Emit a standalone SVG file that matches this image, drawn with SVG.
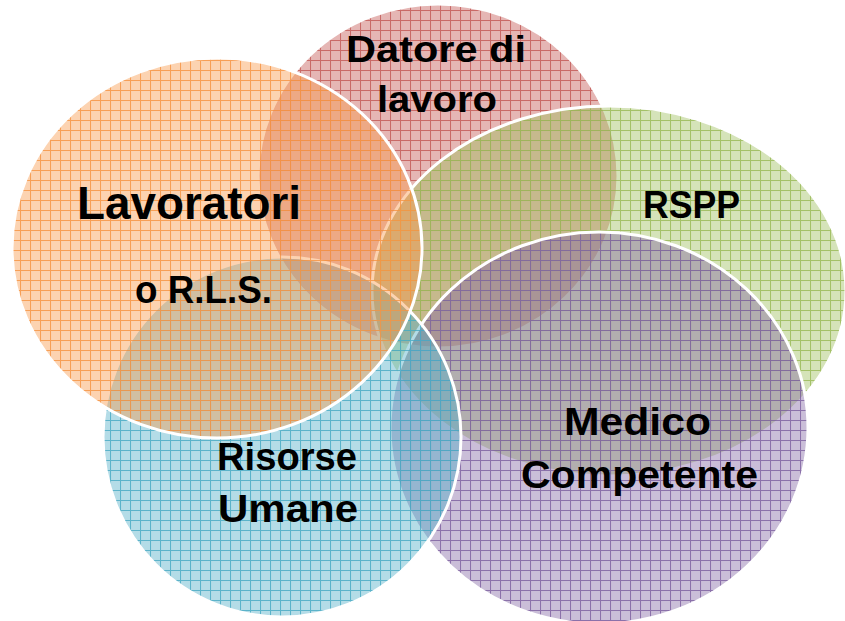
<svg xmlns="http://www.w3.org/2000/svg" width="845" height="621" viewBox="0 0 845 621">
  <defs>
    <pattern id="pRed" patternUnits="userSpaceOnUse" width="10" height="10">
      <rect width="10" height="10" fill="#C0504D" fill-opacity="0.42"/>
      <path d="M0 0.5H10M0.5 0V10" stroke="#C0504D" stroke-opacity="0.75" stroke-width="1.1" fill="none"/>
    </pattern>
    <pattern id="pOrange" patternUnits="userSpaceOnUse" width="10" height="10">
      <rect width="10" height="10" fill="#F79646" fill-opacity="0.42"/>
      <path d="M0 0.5H10M0.5 0V10" stroke="#F79646" stroke-opacity="0.85" stroke-width="1.1" fill="none"/>
    </pattern>
    <pattern id="pGreen" patternUnits="userSpaceOnUse" width="10" height="10">
      <rect width="10" height="10" fill="#9BBB59" fill-opacity="0.42"/>
      <path d="M0 0.5H10M0.5 0V10" stroke="#9BBB59" stroke-opacity="0.85" stroke-width="1.1" fill="none"/>
    </pattern>
    <pattern id="pBlue" patternUnits="userSpaceOnUse" width="10" height="10">
      <rect width="10" height="10" fill="#4BACC6" fill-opacity="0.42"/>
      <path d="M0 0.5H10M0.5 0V10" stroke="#4BACC6" stroke-opacity="0.85" stroke-width="1.1" fill="none"/>
    </pattern>
    <pattern id="pPurple" patternUnits="userSpaceOnUse" width="10" height="10">
      <rect width="10" height="10" fill="#8064A2" fill-opacity="0.42"/>
      <path d="M0 0.5H10M0.5 0V10" stroke="#8064A2" stroke-opacity="0.85" stroke-width="1.1" fill="none"/>
    </pattern>
  </defs>
  <style>
    .shape { stroke: #FFFFFF; stroke-width: 3; }
    .lbl { font-family: "Liberation Sans", Arial, sans-serif; font-weight: bold; fill: #000000; }
  </style>
  <rect width="845" height="621" fill="#FFFFFF"/>
  <g id="connectors"/>
  <g id="datore">
    <ellipse class="shape" cx="438" cy="176" rx="180" ry="172" fill="url(#pRed)"/>
    <text class="lbl" x="346" y="62" font-size="37" textLength="180" lengthAdjust="spacingAndGlyphs">Datore di</text>
    <text class="lbl" x="377" y="112" font-size="37" textLength="120" lengthAdjust="spacingAndGlyphs">lavoro</text>
  </g>
  <g id="rspp">
    <ellipse class="shape" cx="609" cy="291" rx="237" ry="185" fill="url(#pGreen)"/>
    <text class="lbl" x="643" y="218" font-size="38" textLength="97" lengthAdjust="spacingAndGlyphs">RSPP</text>
  </g>
  <g id="medico">
    <ellipse class="shape" cx="599" cy="428" rx="209" ry="196" fill="url(#pPurple)"/>
    <text class="lbl" x="564" y="435" font-size="38" textLength="147" lengthAdjust="spacingAndGlyphs">Medico</text>
    <text class="lbl" x="521" y="488" font-size="38" textLength="237" lengthAdjust="spacingAndGlyphs">Competente</text>
  </g>
  <g id="risorse">
    <ellipse class="shape" cx="282" cy="437" rx="179" ry="180" fill="url(#pBlue)"/>
    <text class="lbl" x="217" y="470" font-size="38" textLength="140" lengthAdjust="spacingAndGlyphs">Risorse</text>
    <text class="lbl" x="218" y="522" font-size="38" textLength="140" lengthAdjust="spacingAndGlyphs">Umane</text>
  </g>
  <g id="lavoratori">
    <ellipse class="shape" cx="217" cy="248" rx="205" ry="190" fill="url(#pOrange)"/>
    <text class="lbl" x="77" y="219" font-size="47" textLength="224" lengthAdjust="spacingAndGlyphs">Lavoratori</text>
    <text class="lbl" x="135" y="303" font-size="38" textLength="137" lengthAdjust="spacingAndGlyphs">o R.L.S.</text>
  </g>
</svg>
